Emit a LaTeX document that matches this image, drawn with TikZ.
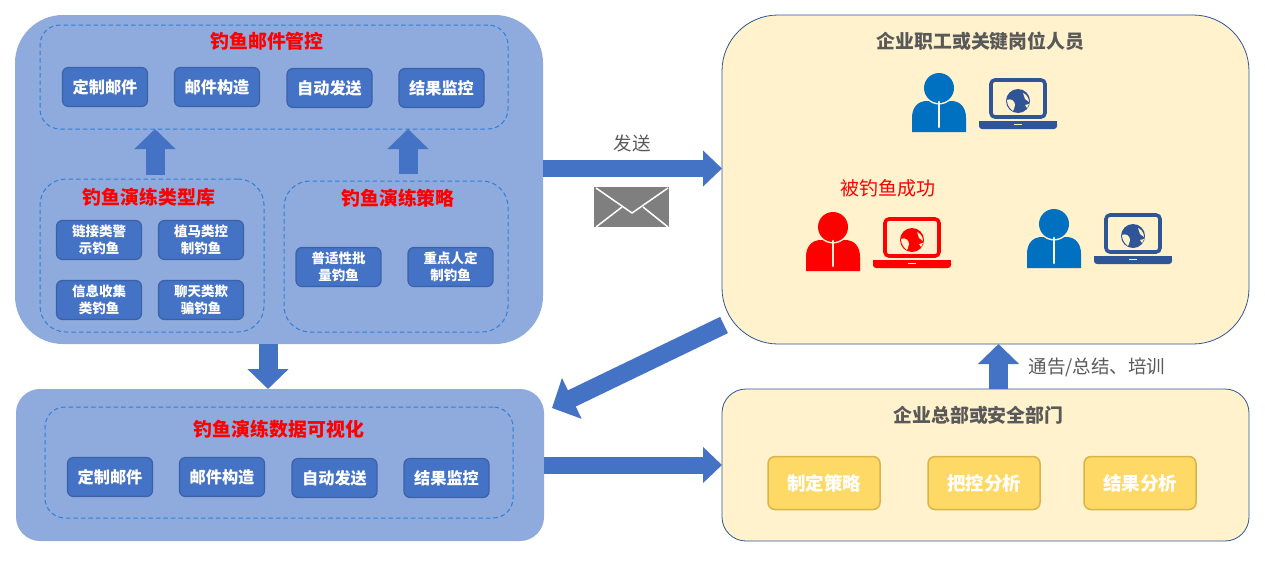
\documentclass[tikz,border=0pt]{standalone}
\usepackage{xcolor}
\usepackage{fontspec}
\setmainfont{Noto Sans CJK SC}
\usetikzlibrary{
  arrows.meta,
  positioning,
  calc
}
\definecolor{fpPanel}{HTML}{8FAADC}
\definecolor{fpBlue}{HTML}{4472C4}
\definecolor{fpEdge}{HTML}{3A62A8}
\definecolor{fpDash}{HTML}{2E7FD8}
\definecolor{fpCream}{HTML}{FFF2CC}
\definecolor{fpLine}{HTML}{2F5597}
\definecolor{fpGold}{HTML}{FFD966}
\definecolor{fpGoldEdge}{HTML}{D9B44A}
\definecolor{fpGrey}{HTML}{595959}
\definecolor{fpMail}{HTML}{7F7F7F}
\definecolor{fpPerson}{HTML}{0070C0}
\tikzset{
  panelblue/.style={fill=fpPanel, rounded corners=#1, inner sep=0pt, outer sep=0pt},
  panelcream/.style={draw=fpLine, line width=0.8pt, fill=fpCream, rounded corners=#1, inner sep=0pt, outer sep=0pt},
  zone/.style={draw=fpDash, line width=1pt, dash pattern=on 4.5pt off 3pt, rounded corners=#1, inner sep=0pt, outer sep=0pt},
  ztitle/.style={font=\fontsize{18.9}{20}\selectfont\bfseries, text=red, inner sep=0pt},
  ptitle/.style={font=\fontsize{18.9}{20}\selectfont\bfseries, text=fpGrey, inner sep=0pt},
  bigbox/.style={draw=fpEdge, line width=1.2pt, fill=fpBlue, rounded corners=6pt, minimum width=85pt, minimum height=39pt,
    inner sep=0pt, outer sep=0pt, text=white, font=\fontsize{16.2}{18}\selectfont\bfseries},
  smallbox/.style={bigbox, align=center, font=\fontsize{13.5}{16.5}\selectfont\bfseries},
  goldbox/.style={draw=fpGoldEdge, line width=1.5pt, fill=fpGold, rounded corners=7pt, minimum width=112pt, minimum height=53pt,
    inner sep=0pt, outer sep=0pt, text=white, font=\fontsize{18.5}{20}\selectfont\bfseries},
  note/.style={font=\fontsize{18.5}{20}\selectfont, text=fpGrey, inner sep=0pt},
  blockv/.style={line width=19pt, fpBlue, -{Triangle[length=20pt,width=40pt]}},
  blockh/.style={line width=17pt, fpBlue, -{Triangle[length=19pt,width=35pt]}},
  blockd/.style={line width=18pt, fpBlue, -{Triangle[length=22pt,width=44pt]}},
  person/.pic={
    \fill (-27,44) -- (-27,30) .. controls (-27,19) and (-21,13) .. (-12,13) -- (12,13)
      .. controls (21,13) and (27,19) .. (27,30) -- (27,44) -- cycle;
    \draw[fill, fpCream, line width=1pt] (0,0) circle (16);
    \fill (0,0) circle (15);
    \draw[fpCream, line width=2.6pt, line cap=round] (0,14) -- (0,39);
  },
  laptop/.pic={
    \draw[line width=3.6pt, rounded corners=4pt] (-27,-21) rectangle (27,16);
    \fill[rounded corners=3pt] (-39,20) -- (-39,28) -- (39,28) -- (39,20) -- cycle;
    \fill (-39,20) rectangle (39,24);
    \fill[fpCream] (-4,23) rectangle (4,24.2);
    \fill (0,0) circle (12);
    \fill[fpCream] (-11,-1) .. controls (-7,-3) and (-3,0) .. (-3,4) .. controls (-3,7) and (-5,9) .. (-5,10)
      .. controls (-9,7) and (-11,3) .. (-11,-1) -- cycle;
    \fill[fpCream] (5,-8) .. controls (8,-7) and (11,-3) .. (11,1) -- (7,-2) -- cycle;
    \fill[fpCream] (7,4) -- (11,3) -- (9,7) -- cycle;
  }
}
\begin{document}
\begin{tikzpicture}[x=1pt, y=-1pt]
  \useasboundingbox (0,0) rectangle (1265,560);
  % left column
  \node[panelblue=48pt, minimum width=528pt, minimum height=329pt] (drill) at (279,179.5) {};
  \node[zone=20pt, minimum width=468pt, minimum height=104pt] (mailzone) at (274,77) {};
  \node[ztitle, below=7pt of mailzone.north, xshift=-7pt] (mailtitle) {钓鱼邮件管控};
  \node[bigbox] (m1) at (105,87) {定制邮件};
  \node[bigbox, right=27pt of m1] (m2) {邮件构造};
  \node[bigbox, right=27.5pt of m2, yshift=-1pt] (m3) {自动发送};
  \node[bigbox, right=27pt of m3] (m4) {结果监控};

  \node[zone=26pt, minimum width=224pt, minimum height=153pt] (typezone) at (152,255.5) {};
  \node[ztitle, below=9pt of typezone.north, xshift=-3pt] (typetitle) {钓鱼演练类型库};
  \node[smallbox] (t1) at (99,240) {链接类警\\示钓鱼};
  \node[smallbox, right=17pt of t1] (t2) {植马类控\\制钓鱼};
  \node[smallbox, below=21pt of t1] (t3) {信息收集\\类钓鱼};
  \node[smallbox, below=21pt of t2] (t4) {聊天类欺\\骗钓鱼};

  \node[zone=26pt, minimum width=224pt, minimum height=151pt] (tacticzone) at (396,256.5) {};
  \node[ztitle, below=8pt of tacticzone.north, xshift=2pt] (tactictitle) {钓鱼演练策略};
  \node[smallbox] (c1) at (338.5,267) {普适性批\\量钓鱼};
  \node[smallbox, right=27pt of c1] (c2) {重点人定\\制钓鱼};

  \node[panelblue=24pt, minimum width=528pt, minimum height=152pt] (data) at (280,465) {};
  \node[zone=20pt, minimum width=468pt, minimum height=111pt] (datazone) at (279,462.5) {};
  \node[ztitle, below=13pt of datazone.north] (datatitle) {钓鱼演练数据可视化};
  \node[bigbox] (d1) at (110,477) {定制邮件};
  \node[bigbox, right=27pt of d1] (d2) {邮件构造};
  \node[bigbox, right=27.5pt of d2, yshift=-1pt] (d3) {自动发送};
  \node[bigbox, right=27pt of d3] (d4) {结果监控};

  % right column
  \node[panelcream=56pt, minimum width=527pt, minimum height=329pt] (staff) at (985.5,179.5) {};
  \node[ptitle, below=17pt of staff.north, xshift=-5pt] (stafftitle) {企业职工或关键岗位人员};
  \pic[color=fpPerson] (p1) at (939,88) {person};
  \pic[color=fpLine] (l1) at (1018,101) {laptop};
  \node[font=\fontsize{19}{20}\selectfont, text=red, inner sep=0pt] (hooked) at (888,188) {被钓鱼成功};
  \pic[color=red] (p2) at (833,227) {person};
  \pic[color=red] (l2) at (912,240) {laptop};
  \pic[color=fpPerson] (p3) at (1054,224) {person};
  \pic[color=fpLine] (l3) at (1133,236) {laptop};

  \node[panelcream=24pt, minimum width=527pt, minimum height=152pt] (hq) at (985.5,465) {};
  \node[ptitle, below=17pt of hq.north, xshift=-7pt] (hqtitle) {企业总部或安全部门};
  \node[goldbox] (h1) at (824,483) {制定策略};
  \node[goldbox, right=48pt of h1] (h2) {把控分析};
  \node[goldbox, right=44pt of h2] (h3) {结果分析};

  % block arrows
  \draw[blockv, shorten <=4pt] ([xshift=3pt]typezone.north) -- ([xshift=-119pt]mailzone.south);
  \draw[blockv, shorten <=7pt] ([xshift=12pt]tacticzone.north) -- ([xshift=134pt]mailzone.south);
  \draw[blockv] ([xshift=-11pt]drill.south) -- ([xshift=-12pt]data.north);
  \draw[blockh] ([yshift=11pt]drill.east) -- ([yshift=11pt]staff.west);
  \draw[blockd] ([shift={(2pt,19pt)}]staff.south west) -- ([shift={(8pt,-19pt)}]data.north east);
  \draw[blockh] (data.east) -- (hq.west);
  \draw[blockv] ([xshift=13pt]hq.north) -- ([xshift=13pt]staff.south);

  \node[note] (send) at (632,143) {发送};
  \node[note] (notice) at (1097,367) {通告/总结、培训};

  % envelope
  \fill[fpMail] (594,187) rectangle (669,227);
  \draw[white, line width=1.5pt] (596,188) -- (632,213) -- (668,188);
  \draw[white, line width=1.5pt] (596,227) -- (622,207);
  \draw[white, line width=1.5pt] (668,227) -- (643,207);
\end{tikzpicture}
\end{document}
